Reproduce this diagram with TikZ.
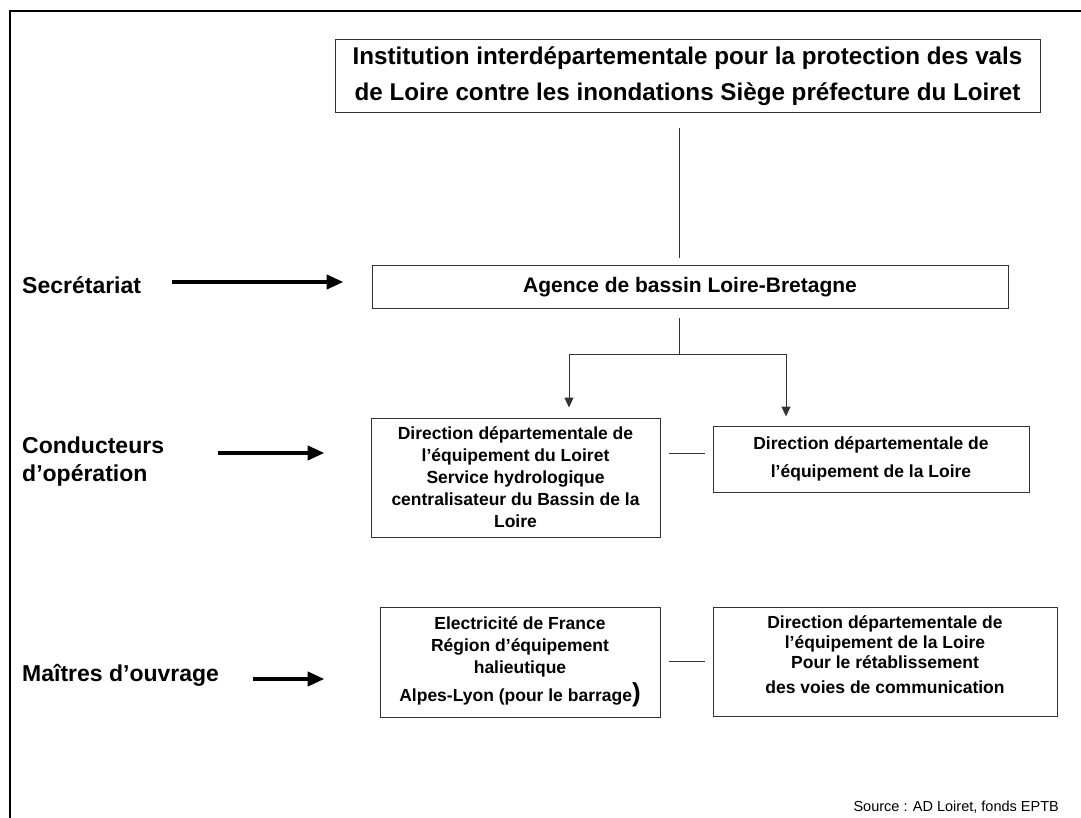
\documentclass[tikz,border=0pt]{standalone}
\usepackage{fontspec}
\setmainfont{Liberation Sans}
\usetikzlibrary{positioning,arrows.meta}

\begin{document}
\begin{tikzpicture}[x=1pt,y=-1pt,
  box/.style={rectangle,draw=black!80,line width=1pt,align=center,inner sep=2pt},
  txt/.style={font=\bfseries\fontsize{17.5}{22}\selectfont},
  lbl/.style={anchor=west,align=left,inner sep=0pt,font=\bfseries\fontsize{23}{28}\selectfont},
  big/.style={line width=4.5pt,-{Triangle[length=17pt,width=14pt]}},
  ln/.style={line width=1pt,black!80},
  ar/.style={ln,-{Triangle[length=10pt,width=9pt]}}]
\useasboundingbox (0,0) rectangle (1081,818);
\draw[line width=2pt] (10,818) -- (10,11) -- (1081,11);
% boxes
\node[box,minimum width=705pt,minimum height=73pt,font=\bfseries\fontsize{24.2}{36}\selectfont] (inst) at (687.5,76.5) {Institution interdépartementale pour la protection des vals\\de Loire contre les inondations Siège préfecture du Loiret};
\node[box,minimum width=636pt,minimum height=43pt,font=\bfseries\fontsize{21}{22}\selectfont] (agence) at (690,287) {Agence de bassin Loire-Bretagne};
\node[box,txt,minimum width=289pt,minimum height=119pt] (ddel) at (515.5,477.5) {Direction départementale de\\l’équipement du Loiret\\Service hydrologique\\centralisateur du Bassin de la\\Loire};
\node[box,txt,minimum width=316pt,minimum height=66pt] (dder) at (871,459) {Direction départementale de\\[6pt]l’équipement de la Loire};
\node[box,txt,minimum width=280pt,minimum height=110pt] (edf) at (520,662) {Electricité de France\\Région d’équipement\\halieutique\\[4pt]Alpes-Lyon (pour le barrage{\fontsize{26}{22}\selectfont )}};
\node[box,minimum width=344pt,minimum height=109pt,font=\bfseries\fontsize{17.5}{20}\selectfont] (voies) at (885,661.5) {Direction départementale de\\l’équipement de la Loire\\Pour le rétablissement\\[5pt]des voies de communication\\[-6pt]\mbox{}};
% labels
\node[lbl] (sec) at (22,285) {Secrétariat};
\node[lbl] (cond) at (22,462) {Conducteurs\\d’opération};
\node[lbl] (maitres) at (22,675) {Maîtres d’ouvrage};
\node[anchor=east,inner sep=0pt,font=\fontsize{14.5}{16}\selectfont] (src) at (1059,807) {Source : AD Loiret, fonds EPTB};
% connectors
\coordinate (split) at (679,354);
\coordinate (sl) at (569,354);
\coordinate (sr) at (786,354);
\draw[ln,shorten <=15pt,shorten >=7pt] (inst.south -| split) -- (agence.north -| split);
\draw[ln,shorten <=9pt] (agence.south -| split) -- (split);
\draw[ln] (sl) -- (sr);
\draw[ar,shorten >=10pt] (sl) -- (sl |- ddel.north);
\draw[ar,shorten >=9pt] (sr) -- (sr |- dder.north);
\draw[ln,shorten <=8pt,shorten >=8pt] ([yshift=6pt]ddel.east |- dder.west) -- ([yshift=6pt]dder.west);
\draw[ln,shorten <=8pt,shorten >=8pt] (edf.east |- voies.west) -- (voies.west);
\draw[big,shorten <=31pt,shorten >=28pt] ([yshift=3pt]sec.east) -- ([yshift=3pt]sec.east -| agence.west);
\draw[big,shorten <=54pt,shorten >=46pt] ([yshift=9pt]cond.east) -- ([yshift=9pt]cond.east -| ddel.west);
\draw[big,shorten <=34pt,shorten >=55pt] ([yshift=-4pt]maitres.east) -- ([yshift=-4pt]maitres.east -| edf.west);
\end{tikzpicture}
\end{document}
